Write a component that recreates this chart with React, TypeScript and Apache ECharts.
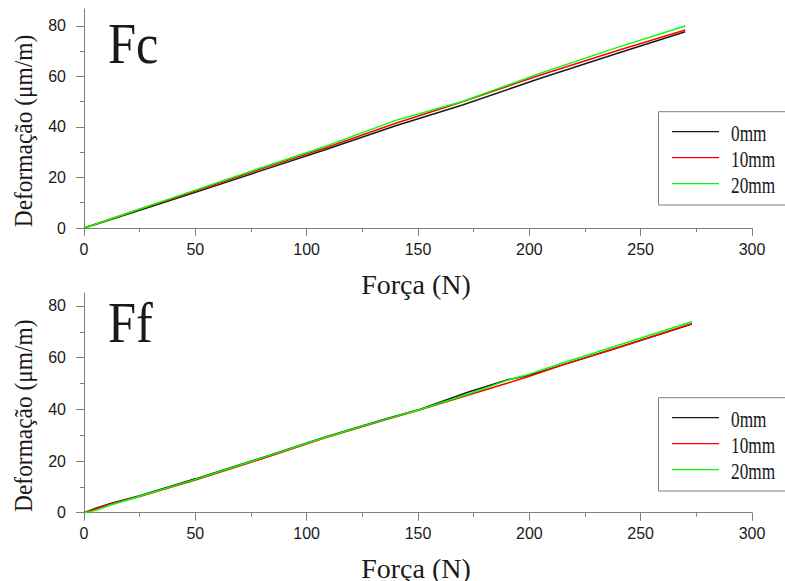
import React, { useEffect, useRef } from "react";
import * as echarts from "echarts";

// ---- data ----
const seriesNames = ["0mm", "10mm", "20mm"];
const seriesColors = ["#1a1a1a", "#ff0000", "#00ff00"];

// Panel "Fc"
const fcForce = [0, 10, 25, 50, 80, 108, 140, 170, 205, 240, 270];
const fc0mm = [0, 2.8, 7.0, 14.1, 22.8, 30.9, 40.5, 48.7, 59.3, 69.3, 77.7];
const fc10mm = [0, 3.0, 7.4, 14.6, 23.5, 31.6, 41.5, 50.0, 60.6, 70.4, 78.4];
const fc20mm = [0, 3.0, 7.5, 15.0, 24.0, 32.2, 42.6, 50.1, 61.3, 71.6, 80.0];

// Panel "Ff"
const ffForce = [0, 5, 12, 25, 50, 80, 108, 135, 151, 173, 190, 200, 214, 240, 273];
const ff0mm = [0, 1.6, 3.6, 6.6, 13.1, 21.3, 29.2, 36.2, 40.0, 46.8, 51.4, 53.2, 56.9, 63.9, 73.0];
const ff10mm = [0, 1.4, 3.4, 6.3, 12.6, 20.9, 28.9, 35.9, 39.8, 45.6, 50.1, 52.8, 56.9, 63.9, 73.1];
const ff20mm = [0, 0.8, 3.0, 6.4, 12.9, 21.2, 29.1, 36.0, 39.9, 46.0, 51.2, 53.6, 57.6, 64.8, 73.9];

// ticks
const xMajorTicks = [0, 50, 100, 150, 200, 250, 300];
const xMinorTicks = [25, 75, 125, 175, 225, 275];
const yMajorTicks = [0, 20, 40, 60, 80];
const yMinorTicks = [10, 30, 50, 70];

const panelTitles = ["Fc", "Ff"];
const xTitle = "Força (N)";
const yTitle = "Deformação (μm/m)";

const AXIS_GRAY = "#808080";
const TEXT_COL = "#1a1a1a";

function pairs(xs: number[], ys: number[]) {
  return xs.map((x, i) => [x, ys[i]]);
}

function txt(text: string, x: number, y: number, fontSize: number, align: string, extra: any = {}) {
  return {
    type: "text",
    x,
    y,
    ...extra,
    style: {
      text,
      fontSize,
      fontFamily: "Liberation Serif",
      fill: TEXT_COL,
      align,
      verticalAlign: "middle",
      textAlign: align,
      textVerticalAlign: "middle",
    },
  };
}

export default function App() {
  const ref = useRef<HTMLDivElement>(null);
  useEffect(() => {
    document.body.style.margin = "0";
    if (!ref.current) return;
    const chart = echarts.init(ref.current, undefined, { renderer: "svg" });

    const panels = [
      { top: 9, height: 219, max: 86.7, data: [fc0mm, fc10mm, fc20mm], xs: fcForce },
      { top: 293, height: 219.7, max: 85, data: [ff0mm, ff10mm, ff20mm], xs: ffForce },
    ];

    const grids: any[] = [];
    const xAxes: any[] = [];
    const yAxes: any[] = [];
    const series: any[] = [];
    const graphics: any[] = [];

    panels.forEach((p, pi) => {
      grids.push({ left: 84, top: p.top, width: 668, height: p.height });
      xAxes.push({
        type: "value",
        gridIndex: pi,
        min: 0,
        max: 300,
        interval: 50,
        position: "bottom",
        axisLine: { show: true, lineStyle: { color: AXIS_GRAY, width: 1 } },
        axisTick: { show: true, length: 8, customValues: xMajorTicks, lineStyle: { color: AXIS_GRAY } },
        axisLabel: {
          show: true,
          margin: 13,
          fontSize: 16,
          fontFamily: "Liberation Sans",
          color: TEXT_COL,
          customValues: xMajorTicks,
        },
        splitLine: { show: false },
      });
      xAxes.push({
        type: "value",
        gridIndex: pi,
        min: 0,
        max: 300,
        interval: 50,
        position: "bottom",
        offset: 0,
        axisLine: { show: false },
        axisTick: { show: true, length: 4, customValues: xMinorTicks, lineStyle: { color: AXIS_GRAY } },
        axisLabel: { show: false },
        splitLine: { show: false },
      });
      yAxes.push({
        type: "value",
        gridIndex: pi,
        min: 0,
        max: p.max,
        interval: 20,
        position: "left",
        axisLine: { show: true, lineStyle: { color: AXIS_GRAY, width: 1 } },
        axisTick: { show: true, length: 8, customValues: yMajorTicks, lineStyle: { color: AXIS_GRAY } },
        axisLabel: {
          show: true,
          margin: 18,
          fontSize: 16,
          fontFamily: "Liberation Sans",
          color: TEXT_COL,
          customValues: yMajorTicks,
          formatter: (v: number) => (yMajorTicks.indexOf(v) >= 0 ? String(v) : ""),
        },
        splitLine: { show: false },
      });
      yAxes.push({
        type: "value",
        gridIndex: pi,
        min: 0,
        max: p.max,
        interval: 20,
        position: "left",
        offset: 0,
        axisLine: { show: false },
        axisTick: { show: true, length: 4, customValues: yMinorTicks, lineStyle: { color: AXIS_GRAY } },
        axisLabel: { show: false },
        splitLine: { show: false },
      });

      p.data.forEach((ys, si) => {
        series.push({
          type: "line",
          name: seriesNames[si],
          xAxisIndex: pi * 2,
          yAxisIndex: pi * 2,
          data: pairs(p.xs, ys),
          symbol: "none",
          lineStyle: { color: seriesColors[si], width: 1.5 },
          itemStyle: { color: seriesColors[si] },
          z: 2 + si,
        });
      });

      const dy = pi === 0 ? 0 : 284.7;

      graphics.push(txt(panelTitles[pi], 108, pi === 0 ? 45 : 324, 56, "left", { scaleX: 0.9 }));
      graphics.push(txt(xTitle, 416, 284 + dy, 28, "center"));
      graphics.push(txt(yTitle, 23, 131 + dy, 26, "center", { rotation: Math.PI / 2, scaleX: 0.9 }));

      const boxTop = pi === 0 ? 111.7 : 397.7;
      graphics.push({
        type: "rect",
        shape: { x: 658.5, y: boxTop, width: 140, height: 93.3 },
        style: { fill: "#fff", stroke: AXIS_GRAY, lineWidth: 1 },
        z: 10,
      });
      const rows = [20, 46, 72];
      seriesNames.forEach((name, si) => {
        const ry = boxTop + rows[si];
        graphics.push({
          type: "line",
          shape: { x1: 672, y1: ry, x2: 719, y2: ry },
          style: { stroke: seriesColors[si], lineWidth: 1.2 },
          z: 11,
        });
        const t: any = txt(name, 731, ry + 1.5, 24, "left", { scaleX: 0.72 });
        t.z = 11;
        graphics.push(t);
      });
    });

    chart.setOption({
      animation: false,
      backgroundColor: "#ffffff",
      grid: grids,
      xAxis: xAxes,
      yAxis: yAxes,
      series,
      graphic: graphics,
    });
    return () => chart.dispose();
  }, []);
  return <div ref={ref} style={{ width: 785, height: 581 }} />;
}
